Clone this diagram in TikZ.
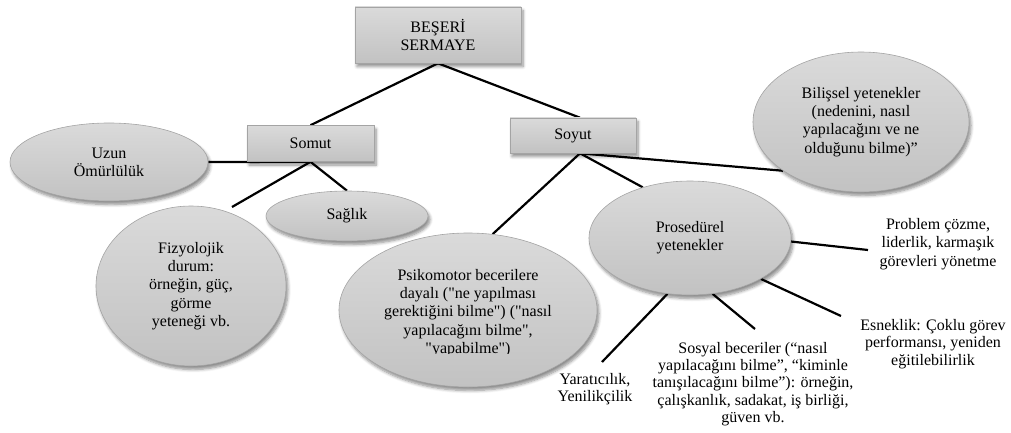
\documentclass[tikz,border=0pt]{standalone}
\usepackage{fontspec}
\setmainfont{Liberation Serif}[Ligatures=TeXReset]
\usetikzlibrary{shapes.geometric,shadows.blur}
\definecolor{fillTop}{HTML}{DADADA}
\definecolor{fillBot}{HTML}{C2C2C2}
\definecolor{edgeGray}{HTML}{A4A4A4}
\pgfdeclarelayer{bg}
\pgfsetlayers{bg,main}
\begin{document}
\begin{tikzpicture}[x=1pt,y=-1pt,
  base/.style={font=\fontsize{16}{18.2}\selectfont, align=center, inner sep=0pt, text=black},
  tight/.style={base, font=\fontsize{16}{17.3}\selectfont},
  shapethree/.style={base, draw=edgeGray, line width=0.6pt, top color=fillTop, bottom color=fillBot,
    blur shadow={shadow xshift=2pt, shadow yshift=-3.5pt, shadow blur steps=6, shadow opacity=45, shadow blur radius=3pt}},
  boxnode/.style={shapethree, rectangle},
  oval/.style={shapethree, ellipse},
  plain/.style={base},
  link/.style={line width=2.2pt, black}
]
\useasboundingbox (0,0) rectangle (1011,433);

% boxes
\node[boxnode, minimum width=166pt, minimum height=56pt] (ber) at (438,35) {BEŞERİ\\SERMAYE};
\node[boxnode, minimum width=127pt, minimum height=36pt] (somut) at (310.5,143.5) {Somut};
\node[boxnode, minimum width=126pt, minimum height=35pt] (soyut) at (573,135.5) {Soyut};

% ellipses
\node[oval, minimum width=198pt, minimum height=78pt] (uzun) at (109,162) {Uzun\\Ömürlülük};
\node[oval, minimum width=162pt, minimum height=50pt] (saglik) at (347,216) {Sağlık};
\node[oval, minimum width=190pt, minimum height=160pt] (fizy) at (191,286) {Fizyolojik\\durum:\\örneğin, güç,\\görme\\yeteneği vb.};
\node[oval, minimum width=258pt, minimum height=154pt] (psiko) at (468,310) {};
\begin{scope}
\clip (330,230) rectangle (610,353.5);
\node[plain] (psikotext) at (468,313) {Psikomotor becerilere\\dayalı ("ne yapılması\\gerektiğini bilme") ("nasıl\\yapılacağını bilme",\\"yapabilme")};
\end{scope}
\node[oval, minimum width=202pt, minimum height=114pt] (pros) at (690,238) {Prosedürel\\yetenekler};
\node[oval, minimum width=216pt, minimum height=140pt] (bilis) at (861,122) {Bilişsel yetenekler\\(nedenini, nasıl\\yapılacağını ve ne\\olduğunu bilme)”};

% plain texts
\node[plain] (prob) at (938,244) {Problem çözme,\\liderlik, karmaşık\\görevleri yönetme};
\node[tight] (esnek) at (933,344) {Esneklik: Çoklu görev\\performansı, yeniden\\eğitilebilirlik};
\node[tight] (sosyal) at (753,384) {Sosyal beceriler (“nasıl\\yapılacağını bilme”, “kiminle\\tanışılacağını bilme”): örneğin,\\çalışkanlık, sadakat, iş birliği,\\güven vb.};
\node[tight] (yarat) at (595,389) {Yaratıcılık,\\Yenilikçilik};

% free ends of connectors
\coordinate (fizyEnd) at (232,207);
\coordinate (probEnd) at (868,250);
\coordinate (yaratEnd) at (602,362);
\coordinate (sosyalEnd) at (755,329);
\coordinate (esnekEnd) at (841,316);

\begin{pgfonlayer}{bg}
\draw[link] (ber.south) -- (somut.north);
\draw[link] (ber.south) -- ([xshift=7pt]soyut.north);
\draw[link] (somut.south) -- (uzun.east);
\draw[link] (somut.south) -- (fizyEnd);
\draw[link] (somut.south) -- (saglik.north);
\draw[link] ([xshift=7pt]soyut.south) -- (psiko.72);
\draw[link] ([xshift=7pt]soyut.south) -- (pros.133);
\draw[link] ([xshift=7pt]soyut.south) -- (bilis.212);
\draw[link] (pros.-2) -- (probEnd);
\draw[link] (pros.248) -- (yaratEnd);
\draw[link] (pros.-68) -- (sosyalEnd);
\draw[link] (pros.-30) -- (esnekEnd);
\end{pgfonlayer}
\end{tikzpicture}
\end{document}
